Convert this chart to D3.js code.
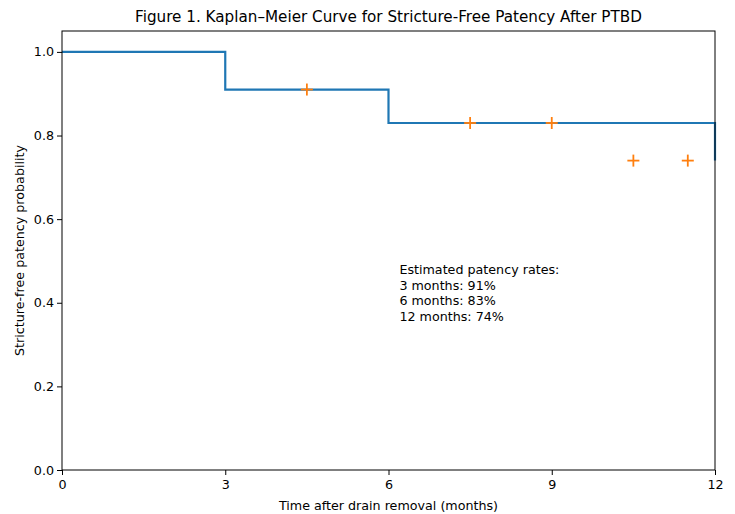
<!DOCTYPE html>
<html>
<head>
<meta charset="utf-8">
<script src="https://cdn.jsdelivr.net/npm/d3@7"></script>
<style>
  body { margin: 0; background: #fff; }
  text { font-family: "DejaVu Sans", sans-serif; fill: #000; }
</style>
</head>
<body>
<script>
// step curve: time (months) and survival after each step
const stepTimes = [0, 3, 6, 12];
const stepSurv = [1.0, 0.91, 0.83, 0.74];
// censor marks
const censorTimes = [4.5, 7.5, 9, 10.5, 11.5];
const censorSurv = [0.91, 0.83, 0.83, 0.74, 0.74];
const xTicks = [0, 3, 6, 9, 12];
const yTicks = [0, 0.2, 0.4, 0.6, 0.8, 1.0];
const noteLines = ["Estimated patency rates:", "3 months: 91%", "6 months: 83%", "12 months: 74%"];

const w = 735;
const h = 514;
const margin = { top: 31, right: 20, bottom: 44, left: 62 };

const svg = d3.select("body")
  .append("svg")
  .attr("width", w)
  .attr("height", h);

const x = d3.scaleLinear().domain([0, 12]).range([margin.left, w - margin.right]);
const y = d3.scaleLinear().domain([0, 1.05]).range([h - margin.bottom, margin.top]);

// step line
const pts = [];
stepTimes.forEach((t, i) => {
  if (i > 0) pts.push([t, stepSurv[i - 1]]);
  pts.push([t, stepSurv[i]]);
});
const line = d3.line().x(d => x(d[0])).y(d => y(d[1]));

svg.append("path")
  .datum(pts)
  .attr("d", line)
  .attr("fill", "none")
  .attr("stroke", "#1f77b4")
  .attr("stroke-width", 2.2);

// censor '+' markers
const mk = svg.append("g")
  .selectAll("g")
  .data(censorTimes.map((t, i) => [t, censorSurv[i]]))
  .enter()
  .append("g")
  .attr("transform", d => "translate(" + x(d[0]) + "," + y(d[1]) + ")");
mk.append("line").attr("x1", -6).attr("x2", 6).attr("y1", 0).attr("y2", 0);
mk.append("line").attr("x1", 0).attr("x2", 0).attr("y1", -6).attr("y2", 6);
mk.selectAll("line").attr("stroke", "#ff7f0e").attr("stroke-width", 1.8);

// axes
const xAxis = svg.append("g")
  .attr("transform", "translate(0," + (h - margin.bottom) + ")")
  .call(d3.axisBottom(x).tickValues(xTicks).tickFormat(d3.format("d")).tickSizeOuter(0).tickSize(5).tickPadding(5));
const yAxis = svg.append("g")
  .attr("transform", "translate(" + margin.left + ",0)")
  .call(d3.axisLeft(y).tickValues(yTicks).tickFormat(d3.format(".1f")).tickSizeOuter(0).tickSize(5).tickPadding(3));
[xAxis, yAxis].forEach(a => {
  a.select(".domain").remove();
  a.selectAll("text").style("font-size", "12.7px").style("font-family", "DejaVu Sans");
  a.selectAll("line").attr("stroke", "#000").attr("stroke-width", 1);
});

// frame
svg.append("rect")
  .attr("x", margin.left)
  .attr("y", margin.top)
  .attr("width", w - margin.left - margin.right)
  .attr("height", h - margin.top - margin.bottom)
  .attr("fill", "none")
  .attr("stroke", "#000")
  .attr("stroke-width", 1);

// title + labels
svg.append("text")
  .attr("x", (margin.left + w - margin.right) / 2)
  .attr("y", 22)
  .attr("text-anchor", "middle")
  .style("font-size", "15.2px")
  .text("Figure 1. Kaplan–Meier Curve for Stricture-Free Patency After PTBD");

svg.append("text")
  .attr("x", (margin.left + w - margin.right) / 2)
  .attr("y", 510)
  .attr("text-anchor", "middle")
  .style("font-size", "12.7px")
  .text("Time after drain removal (months)");

svg.append("text")
  .attr("transform", "translate(24," + ((margin.top + h - margin.bottom) / 2) + ") rotate(-90)")
  .attr("text-anchor", "middle")
  .style("font-size", "12.7px")
  .text("Stricture-free patency probability");

// annotation
svg.append("g")
  .selectAll("text")
  .data(noteLines)
  .enter()
  .append("text")
  .attr("x", x(6.2))
  .attr("y", (d, i) => 274 + i * 15.5)
  .style("font-size", "12.7px")
  .text(d => d);
</script>
</body>
</html>
